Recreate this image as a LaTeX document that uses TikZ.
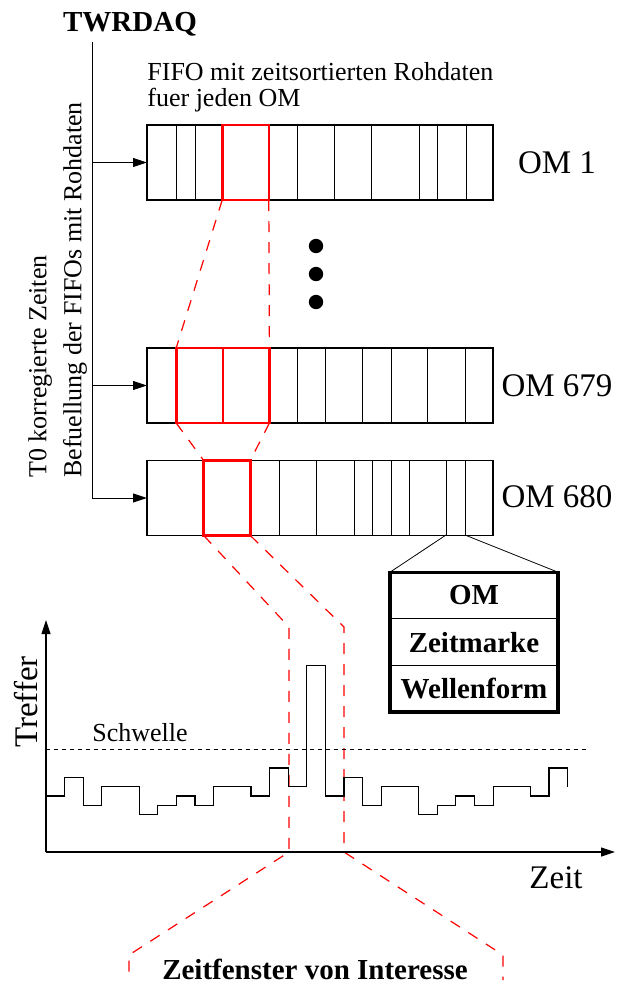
\documentclass[tikz,border=0pt]{standalone}
\usepackage{fontspec}
\setmainfont{Liberation Serif}
\usetikzlibrary{arrows.meta,positioning}

\begin{document}
\begin{tikzpicture}[x=0.5pt,y=-0.5pt,
    fifo/.style={draw,line width=0.7pt,minimum width=173pt,minimum height=37.5pt,inner sep=0pt,outer sep=0pt},
    window/.style={draw=red,line width=1.3pt,minimum width=23.3pt,minimum height=37.5pt,inner sep=0pt,outer sep=0pt},
    cell/.style={line width=0.35pt},
    cut/.style={red,line width=0.6pt,dash pattern=on 5.5pt off 5pt},
    hitcell/.style={draw,line width=0.5pt,minimum width=84pt,minimum height=23.3pt,inner sep=0pt,outer sep=0pt,font=\fontsize{14.5}{16}\selectfont\bfseries},
    lab/.style={font=\fontsize{16.5}{18}\selectfont},
    txt/.style={font=\fontsize{13}{13}\selectfont},
    >={Triangle[length=7pt,width=4.5pt]}]
        \useasboundingbox (0,0) rectangle (616,985);

        % DAQ and the feed line
        \node[font=\fontsize{14.5}{16}\selectfont\bfseries,anchor=base] (daq) at (130,32) {TWRDAQ};
        \coordinate (bustop) at (92,42);
        \node[rotate=90,align=left,anchor=north west,inner sep=0pt,font=\fontsize{13}{17.5}\selectfont] (feed) at (28,478) {T0 korregierte Zeiten\\Befuellung der FIFOs mit Rohdaten};

        % FIFOs
        \node[fifo] (om1) at (320,162.5) {};
        \node[fifo] (om679) at (320,385.5) {};
        \node[fifo] (om680) at (320,498) {};
        \node[txt,align=left,anchor=north west,inner sep=0pt] (fifotxt) at (147,62) {FIFO mit zeitsortierten Rohdaten\\fuer jeden OM};
        \foreach \x in {176,195,297,334,371,419,437,466} \draw[cell] (\x,125) -- (\x,200);
        \foreach \x in {297,325,362,391,427,465} \draw[cell] (\x,348) -- (\x,423);
        \foreach \x in {279,316,354,372,391,409,446,465} \draw[cell] (\x,461) -- (\x,535);
        \node[lab] (lab1) at (557,163) {OM 1};
        \node[lab] (lab679) at (557,386) {OM 679};
        \node[lab] (lab680) at (557,497) {OM 680};
        \foreach \y in {246,274,302} \fill (316,\y) circle[radius=3.6pt];

        % feed arrows
        \draw[->,line width=0.5pt] (bustop |- om1.west) -- (om1.west);
        \draw[->,line width=0.5pt] (bustop |- om679.west) -- (om679.west);
        \draw[->,line width=0.5pt] (bustop) |- (om680.west);

        % time windows
        \node[window] (win1) at (245.5,162.5) {};
        \node[window] (win679a) at (199.5,385.5) {};
        \node[window,right=0pt of win679a] (win679b) {};
        \node[window] (win680) at (227,498) {};
        \draw[cut] (win1.south west) -- (win679a.north west);
        \draw[cut] (win1.south east) -- (win679b.north east);
        \draw[cut] (win679a.south west) -- (win680.north west);
        \draw[cut] (win679b.south east) -- (win680.north east);
        \draw[cut] (win680.south west) -- (289,627) -- (289,852) -- (129,955) -- (129,980);
        \draw[cut] (win680.south east) -- (344,627) -- (344,852) -- (503,955) -- (503,980);

        % one hit
        \node[hitcell] (hitom) at (474,595.5) {OM};
        \node[hitcell,below=0pt of hitom] (hittime) {Zeitmarke};
        \node[hitcell,below=0pt of hittime] (hitwave) {Wellenform};
        \draw[line width=1.6pt] (hitom.north west) rectangle (hitwave.south east);
        \coordinate (slotl) at (446,535);
        \coordinate (slotr) at (465,535);
        \draw[line width=0.4pt] (slotl) -- (hitom.north west);
        \draw[line width=0.4pt] (slotr) -- (hitom.north east);

        % hits over time
        \coordinate (origin) at (46,852);
        \draw[->,line width=0.6pt] (origin) -- (46,620);
        \draw[->,line width=0.6pt] (origin) -- (615,852);
        \node[lab,rotate=90] (treffer) at (26,702) {Treffer};
        \node[lab] (zeit) at (556,878) {Zeit};
        \node[txt] (schwelle) at (140,733) {Schwelle};
        \draw[line width=0.4pt,dash pattern=on 2pt off 2pt] (46,749) -- (587,749);
        \begin{scope}[shift={(46,796)},x=9.315pt,y=4.665pt]
          \draw[line width=0.6pt] plot[const plot] coordinates {(0,0) (1,2) (2,-1) (3,1) (5,-2) (6,-1) (7,0) (8,-1) (9,1) (11,0) (12,3) (13,1) (14,14) (15,0) (16,2) (17,-1) (18,1) (20,-2) (21,-1) (22,0) (23,-1) (24,1) (26,0) (27,3) (28,3) (28,1)};
        \end{scope}

        \node[font=\fontsize{14.5}{16}\selectfont\bfseries,anchor=base] (roi) at (315,979) {Zeitfenster von Interesse};
\end{tikzpicture}
\end{document}
